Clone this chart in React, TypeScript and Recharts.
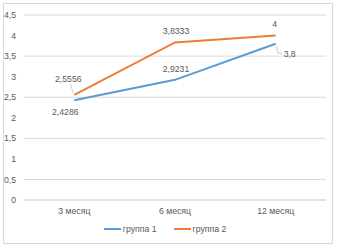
import React from "react";
import { LineChart, Line, XAxis, YAxis, CartesianGrid, Legend, LabelList } from "recharts";

const categories = ["3 месяц", "6 месяц", "12 месяц"];
const group1 = [2.4286, 2.9231, 3.8];
const group2 = [2.5556, 3.8333, 4];
const yTicks = [0, 0.5, 1, 1.5, 2, 2.5, 3, 3.5, 4, 4.5];

const data = categories.map((name, i) => ({ name, g1: group1[i], g2: group2[i] }));

const textColor = "#595959";
const gridColor = "#D9D9D9";
const font = "'Liberation Sans', Arial, sans-serif";

const fmt = (v: number) => String(v).replace(".", ",");

// label offsets from the point, per index
const g1Offsets = [
  [-9, 12],
  [1, -11],
  [14, 10],
];
const g2Offsets = [
  [-6, -16],
  [1, -11],
  [-1, -12],
];

const makeLabel = (offsets: number[][], series: "g1" | "g2") => (props: any) => {
  const { x, y, width, value, index } = props;
  const cx = x + (width || 0) / 2;
  const [dx, dy] = offsets[index];
  let leader = null;
  if (series === "g2" && index === 0) {
    leader = <polyline points={`${cx - 4},${y - 11} ${cx - 1},${y - 2}`} fill="none" stroke="#BFBFBF" strokeWidth={0.8} />;
  }
  if (series === "g1" && index === 2) {
    leader = (
      <polyline points={`${cx + 1},${y + 2} ${cx + 2},${y + 9} ${cx + 7},${y + 10}`} fill="none" stroke="#BFBFBF" strokeWidth={0.8} />
    );
  }
  return (
    <g>
      {leader}
      <text x={cx + dx} y={y + dy} dy="0.35em" textAnchor="middle" fontSize={8.7} fill={textColor} fontFamily={font}>
        {fmt(value)}
      </text>
    </g>
  );
};

const LegendContent = () => (
  <div style={{ display: "flex", justifyContent: "center", alignItems: "center", fontSize: 8.7, color: textColor, fontFamily: font }}>
    <svg width={17} height={4} style={{ marginRight: 2 }}>
      <line x1={0} y1={2} x2={17} y2={2} stroke="#5B9BD5" strokeWidth={2} />
    </svg>
    <span style={{ marginRight: 17 }}>группа 1</span>
    <svg width={17} height={4} style={{ marginRight: 2 }}>
      <line x1={0} y1={2} x2={17} y2={2} stroke="#ED7D31" strokeWidth={2} />
    </svg>
    <span>группа 2</span>
  </div>
);

export default function App() {
  return (
    <div
      style={{
        position: "absolute",
        left: 3,
        top: 3,
        width: 330,
        height: 241,
        border: `1px solid ${gridColor}`,
        boxSizing: "border-box",
        background: "#fff",
      }}
    >
      <LineChart width={328} height={239} data={data} margin={{ top: 11, right: 6, left: 0, bottom: 4 }}>
        <CartesianGrid vertical={false} stroke={gridColor} />
        <XAxis
          dataKey="name"
          scale="band"
          axisLine={{ stroke: gridColor }}
          tickLine={false}
          height={24}
          tick={{ fontSize: 8.7, fill: textColor, fontFamily: font }}
        />
        <YAxis
          domain={[0, 4.5]}
          ticks={yTicks}
          width={20}
          axisLine={false}
          tickLine={false}
          tickFormatter={fmt}
          tick={{ fontSize: 8.7, fill: textColor, fontFamily: font }}
        />
        <Legend verticalAlign="bottom" height={15} content={<LegendContent />} />
        <Line type="linear" dataKey="g1" name="группа 1" stroke="#5B9BD5" strokeWidth={2} dot={false} isAnimationActive={false}>
          <LabelList dataKey="g1" content={makeLabel(g1Offsets, "g1")} />
        </Line>
        <Line type="linear" dataKey="g2" name="группа 2" stroke="#ED7D31" strokeWidth={2} dot={false} isAnimationActive={false}>
          <LabelList dataKey="g2" content={makeLabel(g2Offsets, "g2")} />
        </Line>
      </LineChart>
    </div>
  );
}
